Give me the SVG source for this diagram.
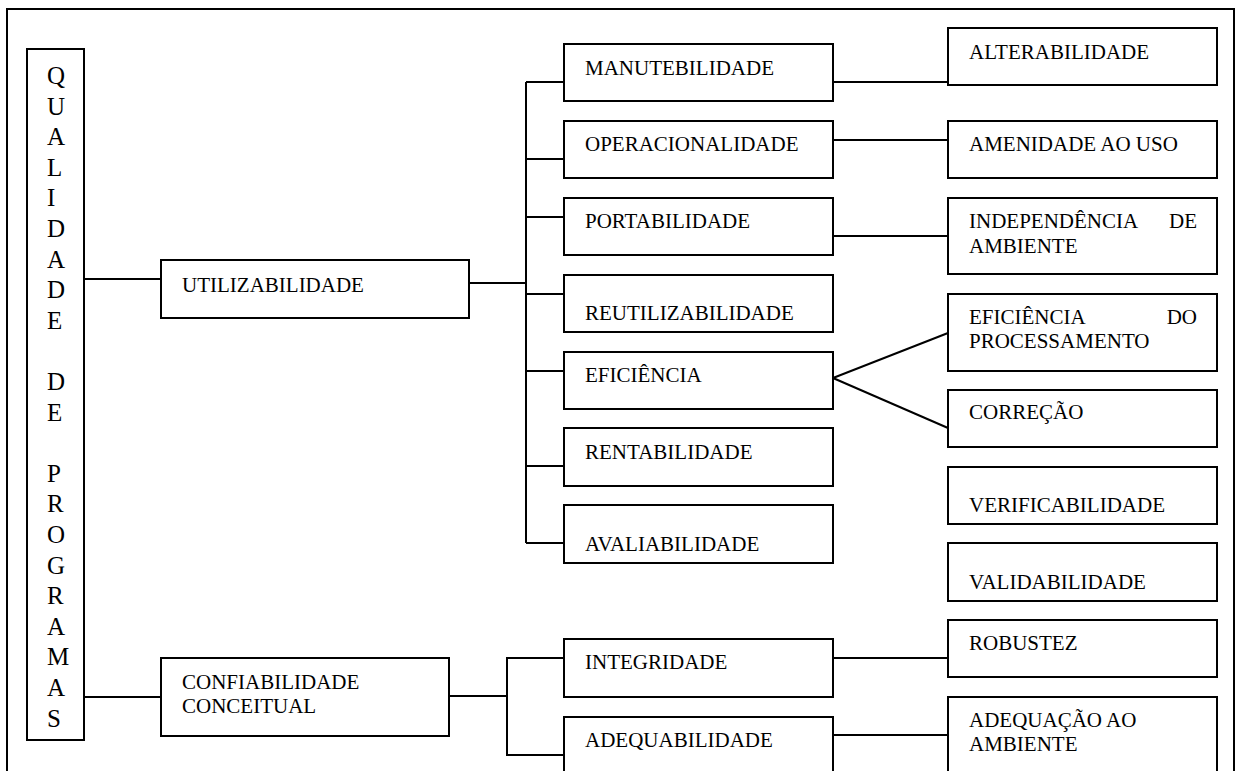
<svg xmlns="http://www.w3.org/2000/svg" width="1238" height="771" viewBox="0 0 1238 771" font-family="'Liberation Serif', 'Times New Roman', 'DejaVu Serif', serif">
<style>
rect.box{fill:#fff;stroke:#000;stroke-width:2}
.c line,.c path,.frame{fill:none;stroke:#000;stroke-width:2}
text{font-family:'Liberation Serif','Times New Roman','DejaVu Serif',serif;font-size:21px;fill:#000}
text.v{font-size:25px}
</style>
<rect width="1238" height="771" fill="#fff"/>
<path class="frame" d="M7,771 V9 H1234 V771"/>
<g class="c" id="connectors">
<line x1="84" y1="279" x2="161" y2="279"/>
<line x1="84" y1="697" x2="161" y2="697"/>
<line x1="469" y1="283" x2="526" y2="283"/>
<line x1="526" y1="82" x2="526" y2="543"/>
<line x1="526" y1="82" x2="564" y2="82"/>
<line x1="526" y1="159" x2="564" y2="159"/>
<line x1="526" y1="217" x2="564" y2="217"/>
<line x1="526" y1="294" x2="564" y2="294"/>
<line x1="526" y1="371" x2="564" y2="371"/>
<line x1="526" y1="466" x2="564" y2="466"/>
<line x1="526" y1="543" x2="564" y2="543"/>
<line x1="449" y1="696" x2="507" y2="696"/>
<path d="M564,658 H507 V755 H564"/>
<line x1="833" y1="82" x2="948" y2="82"/>
<line x1="833" y1="140" x2="948" y2="140"/>
<line x1="833" y1="236" x2="948" y2="236"/>
<line x1="833" y1="378" x2="948" y2="333"/>
<line x1="833" y1="378" x2="948" y2="428"/>
<line x1="833" y1="658" x2="948" y2="658"/>
<line x1="833" y1="735" x2="948" y2="735"/>
</g>
<g id="qualidade">
<rect class="box" x="27" y="49" width="57" height="691"/>
<text class="v" x="47" y="84">Q</text>
<text class="v" x="47" y="114.6">U</text>
<text class="v" x="47" y="145.2">A</text>
<text class="v" x="47" y="175.8">L</text>
<text class="v" x="47" y="206.4">I</text>
<text class="v" x="47" y="237">D</text>
<text class="v" x="47" y="267.6">A</text>
<text class="v" x="47" y="298.2">D</text>
<text class="v" x="47" y="328.8">E</text>
<text class="v" x="47" y="390">D</text>
<text class="v" x="47" y="420.6">E</text>
<text class="v" x="47" y="481.8">P</text>
<text class="v" x="47" y="512.4">R</text>
<text class="v" x="47" y="543">O</text>
<text class="v" x="47" y="573.6">G</text>
<text class="v" x="47" y="604.2">R</text>
<text class="v" x="47" y="634.8">A</text>
<text class="v" x="47" y="665.4">M</text>
<text class="v" x="47" y="696">A</text>
<text class="v" x="47" y="726.6">S</text>
</g>
<g id="utilizabilidade"><rect class="box" x="161" y="260" width="308" height="58"/><text x="182" y="292">UTILIZABILIDADE</text></g>
<g id="confiabilidade"><rect class="box" x="161" y="658" width="288" height="78"/><text x="182" y="689">CONFIABILIDADE</text><text x="182" y="713">CONCEITUAL</text></g>
<g id="manutebilidade"><rect class="box" x="564" y="44" width="269" height="57"/><text x="585" y="75">MANUTEBILIDADE</text></g>
<g id="operacionalidade"><rect class="box" x="564" y="121" width="269" height="57"/><text x="585" y="151">OPERACIONALIDADE</text></g>
<g id="portabilidade"><rect class="box" x="564" y="198" width="269" height="57"/><text x="585" y="228">PORTABILIDADE</text></g>
<g id="reutilizabilidade"><rect class="box" x="564" y="275" width="269" height="57"/><text x="585" y="320">REUTILIZABILIDADE</text></g>
<g id="eficiencia"><rect class="box" x="564" y="352" width="269" height="57"/><text x="585" y="382">EFICIÊNCIA</text></g>
<g id="rentabilidade"><rect class="box" x="564" y="428" width="269" height="58"/><text x="585" y="459">RENTABILIDADE</text></g>
<g id="avaliabilidade"><rect class="box" x="564" y="505" width="269" height="58"/><text x="585" y="551">AVALIABILIDADE</text></g>
<g id="integridade"><rect class="box" x="564" y="639" width="269" height="58"/><text x="585" y="669">INTEGRIDADE</text></g>
<g id="adequabilidade"><rect class="box" x="564" y="717" width="269" height="70"/><text x="585" y="747">ADEQUABILIDADE</text></g>
<g id="alterabilidade"><rect class="box" x="948" y="28" width="269" height="57"/><text x="969" y="59">ALTERABILIDADE</text></g>
<g id="amenidade"><rect class="box" x="948" y="121" width="269" height="57"/><text x="969" y="151">AMENIDADE AO USO</text></g>
<g id="independencia"><rect class="box" x="948" y="198" width="269" height="76"/><text x="969" y="228">INDEPENDÊNCIA</text><text x="1197" y="228" text-anchor="end">DE</text><text x="969" y="253">AMBIENTE</text></g>
<g id="eficiencia-processamento"><rect class="box" x="948" y="294" width="269" height="77"/><text x="969" y="324">EFICIÊNCIA</text><text x="1197" y="324" text-anchor="end">DO</text><text x="969" y="348">PROCESSAMENTO</text></g>
<g id="correcao"><rect class="box" x="948" y="390" width="269" height="57"/><text x="969" y="419">CORREÇÃO</text></g>
<g id="verificabilidade"><rect class="box" x="948" y="467" width="269" height="57"/><text x="969" y="512">VERIFICABILIDADE</text></g>
<g id="validabilidade"><rect class="box" x="948" y="543" width="269" height="58"/><text x="969" y="589">VALIDABILIDADE</text></g>
<g id="robustez"><rect class="box" x="948" y="620" width="269" height="57"/><text x="969" y="650">ROBUSTEZ</text></g>
<g id="adequacao"><rect class="box" x="948" y="697" width="269" height="90"/><text x="969" y="727">ADEQUAÇÃO AO</text><text x="969" y="751">AMBIENTE</text></g>
</svg>
